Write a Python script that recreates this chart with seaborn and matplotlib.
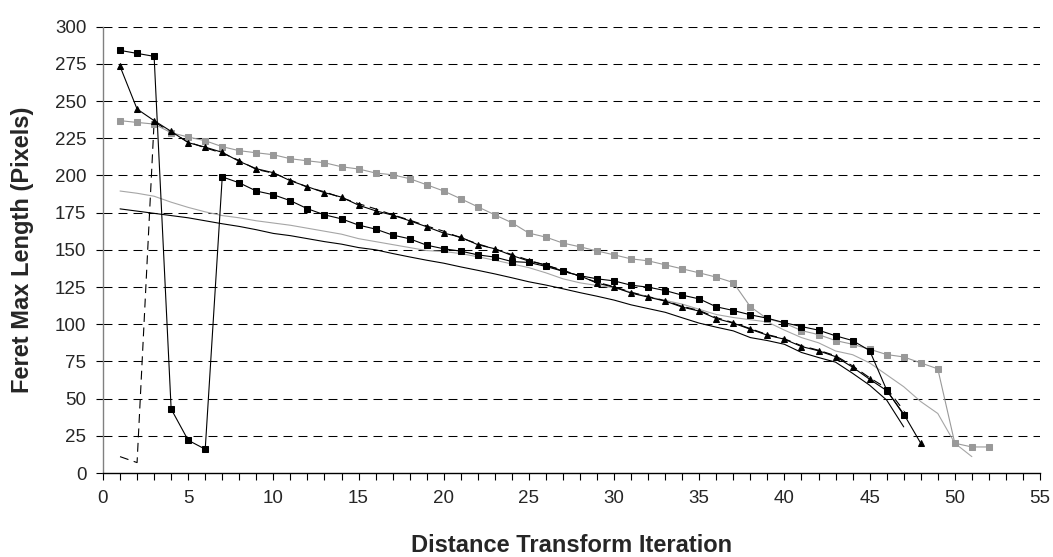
import numpy as np
import pandas as pd
import matplotlib
matplotlib.use("Agg")
import matplotlib.pyplot as plt
import seaborn as sns

# ---------------- data ----------------
black_sq = [284, 282, 280, 43, 22, 16, 199, 195, 189.5, 187, 183, 177.6, 173.5, 170.8,
            166.6, 163.9, 159.9, 157.4, 153.1, 150.7, 149.1, 146.6, 145.1, 142.1, 141.5,
            138.8, 135.6, 132.6, 130.5, 129.1, 126.2, 124.9, 122.6, 119.5, 117, 111.7,
            109.2, 106.3, 104, 101, 98.4, 96, 92.2, 89, 82.3, 55.8, 39]
black_tri = [273.3, 244.6, 236.8, 229.6, 222, 219, 215.5, 209.4, 204.5, 201.8, 196.4,
             192.4, 188.4, 185.4, 180, 176.2, 173.3, 169.5, 165.5, 161.2, 158.5, 153.4,
             150.7, 146.2, 142.4, 139.9, 135.6, 132.5, 127.6, 124.9, 120.9, 118.2, 115.5,
             111.5, 108.8, 103.8, 100.7, 96.6, 92.6, 89.9, 85, 82.1, 78.2, 71.1, 63, 55.4,
             39.7, 20]
gray_sq = [236.8, 235.6, 234.5, 228.7, 225.8, 223.3, 219.3, 216.6, 215.2, 213.9,
           211.2, 209.8, 208.5, 205.8, 204.3, 201.6, 200.4, 197.8, 193.7, 189.5,
           184.3, 178.9, 173.5, 168.2, 161.2, 158.5, 154.5, 152, 149.2, 146.6,
           143.9, 142.6, 139.9, 137.2, 134.5, 131.6, 128, 111.7, 103.6, 100.7,
           95.7, 93, 89, 86.5, 83.2, 79.6, 78, 74, 70, 20, 17.5, 17.5]
gray_line = [189.5, 188, 186, 182, 178.5, 175.5, 173, 171.5, 169.5, 168, 166.5, 164.5,
             162.5, 160.5, 157.5, 155.5, 153.5, 151.5, 149.5, 148.8, 147.5, 145.3, 143,
             140.5, 138, 134.5, 130.5, 127.8, 126, 124.5, 121.5, 118.5, 116, 113.5, 110,
             106.5, 104.5, 103, 101.5, 96, 91, 87.5, 82, 79.5, 74, 66, 58, 48, 40, 20, 11]
black_line = [177.5, 176, 174.5, 173, 171.5, 169.5, 167.5, 165.7, 163.5, 161, 159.5,
              157.5, 155.5, 153.8, 151.5, 150, 147.5, 145.2, 143, 141, 138.5, 136.2,
              133.8, 131.2, 128.5, 126.3, 123.8, 121.2, 118.8, 116.2, 113, 110.5, 108,
              104.3, 100.7, 98, 95.5, 91, 89, 86.5, 81, 77.6, 74.5, 67, 59, 49, 31]
dashed_line = [11, 7, 236, 229, 222.5, 218.5, 215, 210, 204, 201.5, 197, 192, 189, 185,
               181, 177.5, 173.5, 170, 166, 162.5, 158, 154, 150.5, 146.8, 143, 139.5,
               136.5, 132, 128.2, 125.2, 121.5, 118.5, 115.8, 112, 109.2, 104.5, 101, 97,
               93, 90.2, 85.5, 82.5, 78.8, 72, 64, 57, 42]

y_ticks = list(range(0, 301, 25))
x_major = list(range(0, 56, 5))
x_label = "Distance Transform Iteration"
y_label = "Feret Max Length (Pixels)"

def xs(v):
    return np.arange(1, len(v) + 1)

# ---------------- figure ----------------
sns.set_style("white")
plt.rcParams['font.family'] = ['Liberation Sans', 'DejaVu Sans']

fig = plt.figure(figsize=(10.53, 5.57), dpi=100)
ax = fig.add_axes([103 / 1053, 1 - 473 / 557, (1040 - 103) / 1053, (473 - 26.6) / 557])

lw = 0.8
sns.lineplot(x=xs(gray_line), y=gray_line, color="#a6a6a6", linewidth=lw, ax=ax, sort=False)
sns.lineplot(x=xs(black_line), y=black_line, color="black", linewidth=lw, ax=ax, sort=False)
sns.lineplot(x=xs(dashed_line), y=dashed_line, color="black", linewidth=lw, ax=ax, sort=False,
             linestyle=(0, (8, 5)))
sns.lineplot(x=xs(gray_sq), y=gray_sq, color="#999999", linewidth=lw, ax=ax, sort=False,
             marker="s", markersize=4.5, markeredgecolor="#999999", markerfacecolor="#999999")
sns.lineplot(x=xs(black_tri), y=black_tri, color="black", linewidth=lw, ax=ax, sort=False,
             marker="^", markersize=5, markeredgecolor="black", markerfacecolor="black")
sns.lineplot(x=xs(black_sq), y=black_sq, color="black", linewidth=lw, ax=ax, sort=False,
             marker="s", markersize=4.5, markeredgecolor="black", markerfacecolor="black")

ax.set_xlim(0, 55)
ax.set_ylim(0, 300)
ax.set_yticks(y_ticks)
ax.set_xticks(x_major)
ax.set_xticks(range(0, 56), minor=True)
ax.tick_params(axis="both", which="major", labelsize=13.5, direction="out", length=5,
               width=0.8, color="black", left=True, bottom=True)
ax.tick_params(axis="x", which="minor", direction="out", length=5, width=0.8,
               color="black", bottom=True)
ax.tick_params(axis="x", pad=7)
ax.tick_params(axis="y", pad=7)

for yv in y_ticks[1:]:
    ax.axhline(yv, color="black", linewidth=0.75, linestyle=(0, (8.6, 5.8)), zorder=0)

for s in ["top", "right"]:
    ax.spines[s].set_visible(False)
ax.spines["left"].set_color("#808080")
ax.spines["left"].set_linewidth(1.0)
ax.spines["bottom"].set_color("black")
ax.spines["bottom"].set_linewidth(1.0)

ax.set_xlabel(x_label, fontsize=17, fontweight="bold")
ax.set_ylabel(y_label, fontsize=17, fontweight="bold")
ax.xaxis.set_label_coords(0.5, (473 - 534) / 446.4)
ax.yaxis.set_label_coords((34 - 103) / 937, 0.5)

fig.savefig("out.png", dpi=100)
